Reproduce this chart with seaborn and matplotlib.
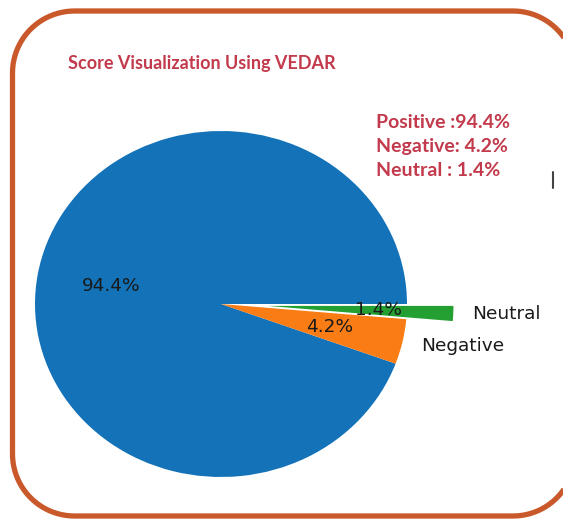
import matplotlib
matplotlib.use("Agg")
import matplotlib.pyplot as plt
from matplotlib.patches import PathPatch
from matplotlib.path import Path
import numpy as np
import seaborn as sns

# Sentiment shares from the VEDAR scoring run
labels = ["Positive", "Negative", "Neutral"]
shares = [94.4, 4.2, 1.4]
explode = [0.0, 0.0, 0.25]
shown_labels = ["", "Negative", "Neutral"]
summary_lines = ["Positive :94.4%", "Negative: 4.2%", "Neutral : 1.4%"]
title = "Score Visualization Using VEDAR"

sns.set_theme(style="white")
colors = sns.color_palette(["#1372B8", "#F97D14", "#24A033"])

W, H, DPI = 563, 519, 100
fig = plt.figure(figsize=(W / DPI, H / DPI), dpi=DPI)
fig.patch.set_facecolor("white")

# Pie axes spans the whole canvas; limits place the pie centre and radius in pixels
ax = fig.add_axes([0, 0, 1, 1])
cx, cy, rx, ry = 221, 304, 186, 173
ax.pie(shares, labels=shown_labels, explode=explode, colors=colors,
       autopct="%1.1f%%", startangle=0,
       wedgeprops={"linewidth": 0, "edgecolor": "none"},
       textprops={"fontsize": 13.3, "color": "#1a1a1a"})
ax.set_aspect("auto")
ax.set_xlim(-cx / rx, (W - cx) / rx)
ax.set_ylim((cy - H) / ry, cy / ry)
ax.axis("off")

# Overlay axes in pixel units (origin bottom-left) for the frame and annotations
ov = fig.add_axes([0, 0, 1, 1], facecolor="none")
ov.set_xlim(0, W)
ov.set_ylim(0, H)
ov.axis("off")


def py(y_from_top):
    return H - y_from_top


def rounded_rect(x0, y0, x1, y1, r, n=24):
    """Closed outline of a rounded rectangle."""
    pts = []
    corners = [(x1 - r, y1 - r, 0), (x0 + r, y1 - r, 90),
               (x0 + r, y0 + r, 180), (x1 - r, y0 + r, 270)]
    for ccx, ccy, a0 in corners:
        t = np.radians(np.linspace(a0, a0 + 90, n))
        pts.extend(zip(ccx + r * np.cos(t), ccy + r * np.sin(t)))
    pts.append(pts[0])
    return Path(pts)


frame = PathPatch(rounded_rect(12.5, py(516), 575, py(11), 62),
                  fill=False, edgecolor="#C9582B", linewidth=3.8,
                  clip_on=False)
ov.add_patch(frame)

red = "#C23A4C"
ov.text(68, py(63), title, fontsize=13, fontweight="bold", color=red,
        family="Lato", va="center", ha="left")
for i, line in enumerate(summary_lines):
    ov.text(376, py(122 + 24.5 * i), line, fontsize=14, fontweight="bold",
            color=red, family="Lato", va="center", ha="left")

# small dark tick at the right margin
ov.plot([553, 553], [py(172), py(188)], color="#444444", linewidth=1.5)

fig.savefig("out.png", dpi=DPI)
